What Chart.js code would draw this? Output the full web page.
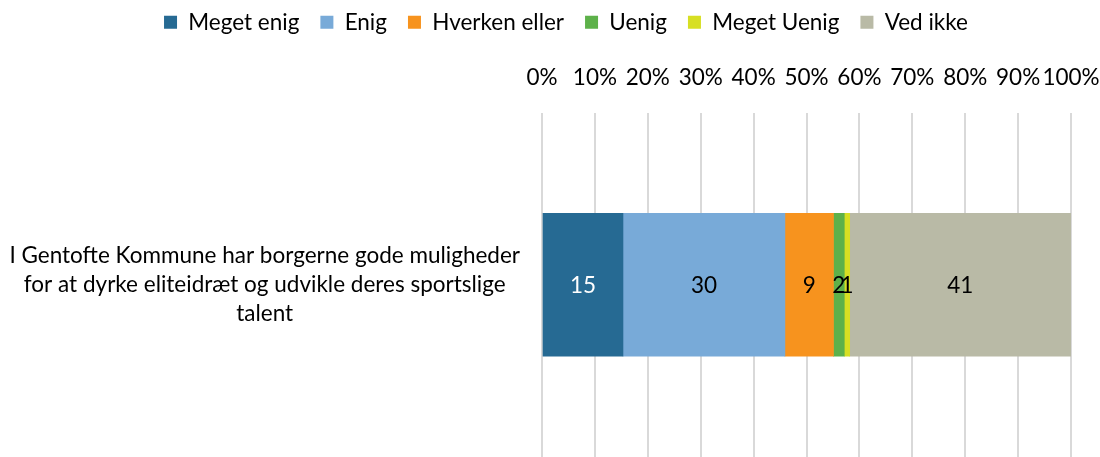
<!DOCTYPE html>
<html>
<head>
<meta charset="utf-8">
<script src="https://cdn.jsdelivr.net/npm/chart.js@4.4.1/dist/chart.umd.min.js"></script>
<style>
html,body{margin:0;padding:0;background:#fff;}
#wrap{width:1100px;height:457px;}
</style>
</head>
<body>
<div id="wrap"><canvas id="c" width="1100" height="457"></canvas></div>
<script>
const categories = [["I Gentofte Kommune har borgerne gode muligheder","for at dyrke eliteidræt og udvikle deres sportslige","talent"]];
const seriesNames = ["Meget enig","Enig","Hverken eller","Uenig","Meget Uenig","Ved ikke"];
const seriesValues = [15, 30, 9, 2, 1, 41];
const seriesColors = ["#266A93","#78AAD8","#F7931E","#5DB14A","#D7DF23","#B9BAA6"];
const labelColors = ["#ffffff","#000000","#000000","#000000","#000000","#000000"];
const tickLabels = ["0%","10%","20%","30%","40%","50%","60%","70%","80%","90%","100%"];

const total = seriesValues.reduce((a,b)=>a+b,0);
const FONT = "Lato";
const FS = 22.5;

const datasets = seriesNames.map((n,i)=>({
  label: n,
  data: [seriesValues[i] / total * 100],
  raw: seriesValues[i],
  backgroundColor: seriesColors[i],
  borderWidth: 0,
  barThickness: 143
}));

const valueLabels = {
  id: 'valueLabels',
  afterDatasetsDraw(chart){
    const ctx = chart.ctx;
    ctx.save();
    ctx.font = FS + "px " + FONT;
    ctx.textAlign = 'center';
    ctx.textBaseline = 'middle';
    chart.data.datasets.forEach((ds,i)=>{
      const meta = chart.getDatasetMeta(i);
      meta.data.forEach(el=>{
        const x = (el.x + el.base)/2;
        ctx.fillStyle = labelColors[i];
        ctx.fillText(String(ds.raw), x, el.y + 1);
      });
    });
    ctx.restore();
  }
};

const legendShift = {
  id: 'legendShift',
  beforeDraw(chart){ if (chart.legend) chart.legend.left = 32; }
};

new Chart(document.getElementById('c'), {
  type: 'bar',
  data: { labels: categories, datasets },
  options: {
    indexAxis: 'y',
    responsive: false,
    animation: false,
    devicePixelRatio: 1,
    layout: { padding: { top: -10, right: 0, left: 0, bottom: 0 } },
    plugins: {
      legend: {
        position: 'top',
        labels: {
          boxWidth: 13, boxHeight: 13,
          padding: 21,
          color: '#000',
          font: { family: FONT, size: FS }
        }
      },
      tooltip: { enabled: false }
    },
    scales: {
      x: {
        position: 'top',
        stacked: true,
        min: 0, max: 100,
        ticks: {
          stepSize: 10,
          color: '#000',
          padding: 21,
          maxRotation: 0, minRotation: 0,
          autoSkip: false,
          font: { family: FONT, size: FS },
          callback: (v, i) => tickLabels[i]
        },
        grid: { color: '#d9d9d9', lineWidth: 2, drawTicks: false },
        border: { display: false },
        afterFit(scale){ scale.paddingRight = 29; scale.paddingLeft = 0; }
      },
      y: {
        stacked: true,
        ticks: {
          color: '#000',
          crossAlign: 'center',
          padding: 22,
          font: { family: FONT, size: FS, lineHeight: 1.3 }
        },
        grid: { display: false, drawTicks: false },
        border: { display: false },
        afterFit(scale){ scale.width = 542; scale.paddingTop = 0; scale.paddingBottom = 0; }
      }
    }
  },
  plugins: [valueLabels, legendShift]
});
</script>
</body>
</html>
